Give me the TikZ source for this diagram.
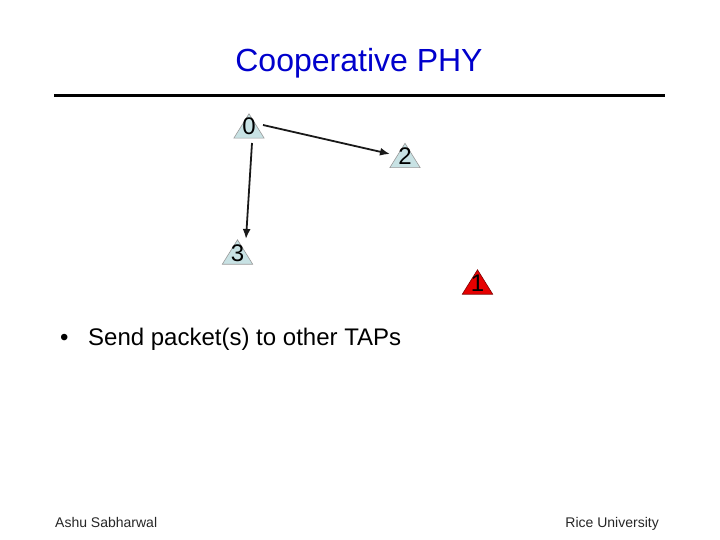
\documentclass[tikz,border=0pt]{standalone}
\usepackage{fontspec}
\setmainfont{Liberation Sans}
\usetikzlibrary{backgrounds,arrows.meta}
\definecolor{titleblue}{RGB}{0,0,204}
\definecolor{tapfill}{RGB}{200,226,228}
\definecolor{tapred}{RGB}{230,0,0}
\newcommand{\tapnum}[1]{\smash{\raisebox{-9pt}{#1}}}
\tikzset{
  tap/.style={rectangle, minimum width=30pt, minimum height=24pt, inner sep=0pt,
    font=\fontsize{24}{24}\selectfont},
  trifill/.style={fill=tapfill, draw=gray!80, line width=0.6pt},
  trired/.style={fill=tapred, draw=red!50!black, line width=0.6pt},
  arr/.style={-{Latex[length=10pt,width=8pt]}, line width=1.8pt, draw=black!90},
  txtnode/.style={inner sep=0pt}
}
\begin{document}
\begin{tikzpicture}[x=1pt,y=-1pt]
\useasboundingbox (0,0) rectangle (720,540);
% title
\node[txtnode, anchor=base, text=titleblue, font=\fontsize{32}{38}\selectfont] (title) at (359,72) {Cooperative PHY};
\coordinate (rl) at (54,96);
\coordinate (rr) at (665,96);
\draw[line width=3pt] (rl) -- (rr);
% TAP nodes
\node[tap] (n0) at (249,126) {\tapnum{0}};
\node[tap] (n2) at (405,155.5) {\tapnum{2}};
\node[tap] (n3) at (237.5,252) {\tapnum{3}};
\node[tap] (n1) at (477.5,282) {\tapnum{1}};
\begin{scope}[on background layer]
  \foreach \n in {n0,n2,n3}{
    \filldraw[trifill] (\n.south west) -- (\n.south east) -- (\n.north) -- cycle;
  }
  \filldraw[trired] (n1.south west) -- (n1.south east) -- (n1.north) -- cycle;
\end{scope}
% arrows
\draw[arr] ([xshift=14pt,yshift=1pt]n0.center) -- ([xshift=-15pt,yshift=1.5pt]n2.center);
\draw[arr] ([xshift=3pt,yshift=-17pt]n0.center) -- ([xshift=8.5pt,yshift=13pt]n3.center);
% bullet text
\node[txtnode, anchor=base west, font=\fontsize{24}{28}\selectfont] (bul) at (60,345) {•};
\node[txtnode, anchor=base west, font=\fontsize{24}{28}\selectfont] (txt) at (88,345) {Send packet(s) to other TAPs};
% footer
\node[txtnode, anchor=base west, font=\fontsize{14}{16}\selectfont, text=black!85] (fl) at (55,527) {Ashu Sabharwal};
\node[txtnode, anchor=base east, font=\fontsize{14}{16}\selectfont, text=black!85] (fr) at (659,527) {Rice University};
\end{tikzpicture}
\end{document}
